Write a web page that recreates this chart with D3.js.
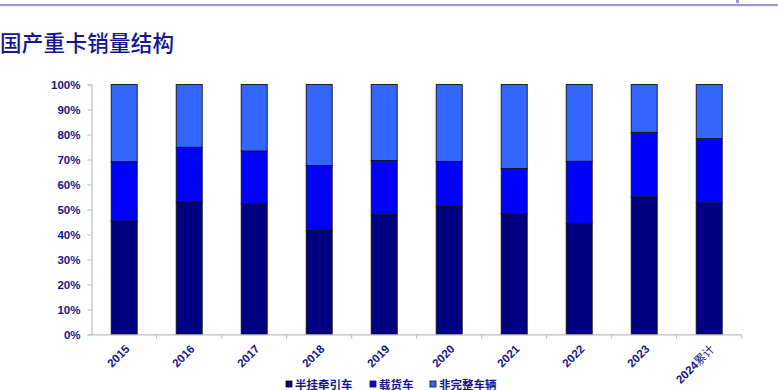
<!DOCTYPE html>
<html><head><meta charset="utf-8">
<script src="https://cdn.jsdelivr.net/npm/d3@7/dist/d3.min.js"></script>
<style>
html,body{margin:0;padding:0;background:#fff;}
svg{display:block;}
</style></head>
<body>
<svg id="chart" width="778" height="390"></svg>
<script>
const categories = ["2015","2016","2017","2018","2019","2020","2021","2022","2023","2024累计"];
const seriesNames = ["半挂牵引车","载货车","非完整车辆"];
const tractor = [45.4,53.1,52.3,41.6,47.9,51.3,48.3,44.3,55.1,52.7];
const truck   = [23.7,21.8,21.1,26.0,21.7,17.9,18.1,25.0,25.7,25.7];
const incomplete = [30.9,25.1,26.6,32.4,30.4,30.8,33.6,30.7,19.2,21.6];
const yTicks = [0,10,20,30,40,50,60,70,80,90,100];
const colors = ["#000080","#0000ff","#3366ff"];

const svg = d3.select("#chart");
const navy = "#14148c";

// header line
svg.append("rect").attr("x",0).attr("y",4).attr("width",778).attr("height",2.2).attr("fill","#9e9ad2");
svg.append("rect").attr("x",736).attr("y",0).attr("width",3).attr("height",3).attr("fill","#9e9ad2");

// title
svg.append("text").attr("x",0).attr("y",51)
  .attr("font-family","'Noto Sans CJK SC'").attr("font-weight",500)
  .attr("font-size",21.5).attr("fill","#141490").attr("letter-spacing",0.3)
  .text("国产重卡销量结构");

const x = d3.scaleBand().domain(categories).range([91.7,741.7]).padding(0);
const y = d3.scaleLinear().domain([0,100]).range([334.5,84.5]);

const data = categories.map((c,i)=>({cat:c, v:[tractor[i],truck[i],incomplete[i]]}));
const stack = d3.stack().keys([0,1,2]).value((d,k)=>d.v[k]);
const stacked = stack(data);

// bars
const bw = x.bandwidth()*0.4;
const g = svg.append("g");
stacked.forEach((layer,k)=>{
  g.selectAll(null).data(layer).enter().append("rect")
    .attr("x",d=>x(d.data.cat)+(x.bandwidth()-bw)/2)
    .attr("y",d=>y(Math.min(d[1],100)))
    .attr("width",bw)
    .attr("height",d=>y(d[0])-y(Math.min(d[1],100)))
    .attr("fill",colors[k])
    .attr("stroke","#111")
    .attr("stroke-width",0.9);
});

// y axis
const yAxis = d3.axisLeft(y).tickValues(yTicks).tickSize(4).tickFormat(d=>d+"%");
const ya = svg.append("g").attr("transform","translate(91.5,0)").call(yAxis);
ya.select(".domain").attr("stroke","#bdbdbd").attr("stroke-width",1.2);
ya.selectAll(".tick line").attr("stroke","#bdbdbd");
ya.selectAll(".tick text").attr("font-family","Arial, 'Liberation Sans'").attr("font-weight","bold")
  .attr("font-size",11.5).attr("fill",navy).attr("x",-11).attr("dy","0.36em");

// x axis
const xa = svg.append("g").attr("transform","translate(0,334.8)");
xa.append("line").attr("x1",91.5).attr("x2",742).attr("y1",0).attr("y2",0).attr("stroke","#bdbdbd").attr("stroke-width",1.2);
const bounds = categories.map(c=>x(c)+x.bandwidth());
xa.selectAll(null).data(bounds).enter().append("line")
  .attr("x1",d=>d).attr("x2",d=>d).attr("y1",0).attr("y2",4).attr("stroke","#bdbdbd");

const xl = xa.selectAll(null).data(categories).enter().append("text")
  .attr("transform",d=>`translate(${x(d)+x.bandwidth()/2+6},${15}) rotate(-45)`)
  .attr("text-anchor","end")
  .attr("font-family","Arial, 'Liberation Sans'").attr("font-weight","bold")
  .attr("font-size",11.5).attr("fill",navy);
xl.each(function(d){
  const t = d3.select(this);
  const m = d.match(/^(\d+)(.*)$/);
  t.append("tspan").text(m[1]);
  if(m[2]) t.append("tspan").attr("font-family","'Noto Sans CJK SC'").attr("font-weight",400).attr("font-size",11.5).text(m[2]);
});

// legend
const legX = [286, 370, 430];
const leg = svg.append("g");
seriesNames.forEach((n,i)=>{
  leg.append("rect").attr("x",legX[i]).attr("y",381).attr("width",6).attr("height",6)
    .attr("fill",colors[i]).attr("stroke","#111").attr("stroke-width",0.8);
  leg.append("text").attr("x",legX[i]+9).attr("y",388.5)
    .attr("font-family","'Noto Sans CJK SC'").attr("font-weight",700)
    .attr("font-size",11.5).attr("fill",navy).text(n);
});
</script>
</body></html>
